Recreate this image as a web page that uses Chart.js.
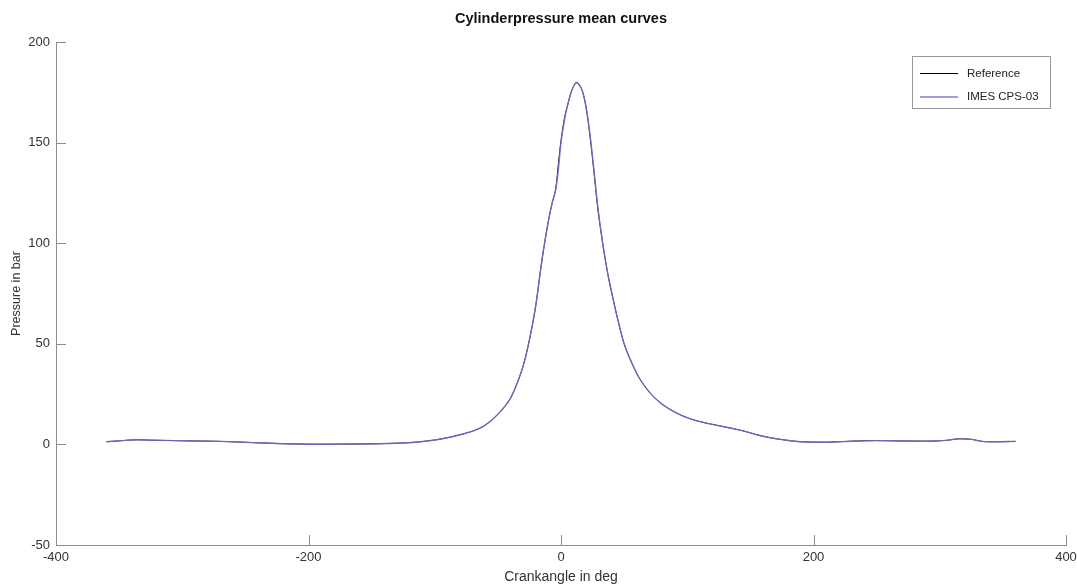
<!DOCTYPE html>
<html lang="en">
<head>
    <meta charset="UTF-8">
    <title>Cylinderpressure mean curves</title>
    <script src="https://cdn.jsdelivr.net/npm/chart.js"></script>
    <style>
        html, body { margin: 0; padding: 0; background: #fff; }
        #wrap { width: 1077px; height: 587px; }
    </style>
</head>
<body>
<div id="wrap"><canvas id="pressureChart" width="1077" height="587"></canvas></div>

<script>
    // crank angle in deg
    var crankAngle = [-360, -345, -335, -325, -300, -270, -240, -200, -160, -130, -115, -100, -90, -80, -70, -60,
        -50, -40, -35, -30, -25, -20, -15, -10, -7, -4, -2, 0, 3, 5, 8, 10, 12, 14, 17, 20, 23, 26, 29, 33, 37,
        41, 45, 50, 55, 62, 70, 78, 86, 95, 105, 115, 125, 135, 145, 155, 165, 175, 190, 210, 230, 250, 270,
        290, 305, 316, 325, 335, 345, 360];

    // pressure in bar
    var refPressure = [1.3, 2.0, 2.3, 2.1, 1.8, 1.5, 0.8, 0.1, 0.2, 0.6, 1.1, 2.2, 3.3, 4.8, 6.6, 9.6,
        15, 23, 30, 39, 52, 69, 92, 111, 120, 128, 140, 151, 163, 168, 175, 178, 179.9, 179.2, 175.5, 167, 153, 136, 118, 100, 85,
        73, 62, 50, 42, 33, 26, 21, 17.5, 14.5, 12.2, 10.6, 9.3, 8.0, 6.6, 4.8, 3.4, 2.4, 1.3, 1.1, 1.6, 1.9, 1.7,
        1.6, 2.0, 2.8, 2.5, 1.4, 1.3, 1.5];

    var imesPressure = [1.3, 2.0, 2.3, 2.1, 1.8, 1.5, 0.8, 0.1, 0.2, 0.6, 1.1, 2.2, 3.3, 4.8, 6.6, 9.6,
        15, 23, 30, 39, 52, 69, 92, 111, 120, 127, 137, 150, 162, 168, 175, 178, 179.6, 179, 175.5, 167, 154, 137, 119, 100, 85,
        73, 62, 50, 42, 33, 26, 21, 17.5, 14.5, 12.2, 10.6, 9.3, 8.0, 6.6, 4.8, 3.4, 2.4, 1.3, 1.1, 1.6, 1.9, 1.7,
        1.6, 2.0, 2.8, 2.5, 1.4, 1.3, 1.5];

    var seriesNames = ['Reference', 'IMES CPS-03'];
    var seriesColors = ['#000000', 'rgba(112, 112, 200, 0.9)'];
    var chartTitle = 'Cylinderpressure mean curves';
    var xTicks = [-400, -200, 0, 200, 400];
    var yTicks = [-50, 0, 50, 100, 150, 200];

    function toPoints(values) {
        return crankAngle.map(function (a, i) { return {x: a, y: values[i]}; });
    }

    var axisColor = '#8c8c8c';
    var textColor = '#333333';
    var fontFamily = '"Liberation Sans", Arial, Helvetica, sans-serif';

    // title centred over the plot area
    var plotTitle = {
        id: 'plotTitle',
        afterDraw: function (chart) {
            var c = chart.ctx, area = chart.chartArea;
            c.save();
            c.font = 'bold 14.5px ' + fontFamily;
            c.fillStyle = '#111';
            c.textAlign = 'center';
            c.textBaseline = 'middle';
            c.fillText(chartTitle, (area.left + area.right) / 2, 19);
            c.restore();
        }
    };

    // inward tick marks (matlab style)
    var innerTicks = {
        id: 'innerTicks',
        afterDraw: function (chart) {
            var c = chart.ctx, area = chart.chartArea;
            var xs = chart.scales.x, ys = chart.scales.y;
            c.save();
            c.strokeStyle = axisColor;
            c.lineWidth = 1;
            c.beginPath();
            xTicks.forEach(function (v) {
                var px = Math.round(xs.getPixelForValue(v)) + 0.5;
                c.moveTo(px, area.bottom);
                c.lineTo(px, area.bottom - 10);
            });
            yTicks.forEach(function (v) {
                var py = Math.round(ys.getPixelForValue(v)) + 0.5;
                c.moveTo(area.left, py);
                c.lineTo(area.left + 10, py);
            });
            c.stroke();
            c.restore();
        }
    };

    // legend box inside the plot, upper right
    var boxLegend = {
        id: 'boxLegend',
        afterDraw: function (chart) {
            var c = chart.ctx;
            var bx = 912, by = 56, bw = 138, bh = 52;
            c.save();
            c.fillStyle = '#fff';
            c.fillRect(bx, by, bw, bh);
            c.strokeStyle = '#999';
            c.lineWidth = 1;
            c.strokeRect(bx + 0.5, by + 0.5, bw, bh);
            c.font = '11.5px ' + fontFamily;
            c.textBaseline = 'middle';
            seriesNames.forEach(function (name, i) {
                var ly = by + 17.5 + i * 23.5;
                c.strokeStyle = seriesColors[i];
                c.lineWidth = i === 0 ? 1 : 1.5;
                c.beginPath();
                c.moveTo(bx + 8, ly);
                c.lineTo(bx + 46, ly);
                c.stroke();
                c.fillStyle = '#222';
                c.fillText(name, bx + 55, ly);
            });
            c.restore();
        }
    };

    var ctx = document.getElementById('pressureChart').getContext('2d');
    var pressureChart = new Chart(ctx, {
        type: 'line',
        data: {
            datasets: [
                {
                    label: seriesNames[0],
                    data: toPoints(refPressure),
                    borderColor: seriesColors[0],
                    borderWidth: 1,
                    pointRadius: 0,
                    fill: false,
                    cubicInterpolationMode: 'monotone',
                    order: 1
                },
                {
                    label: seriesNames[1],
                    data: toPoints(imesPressure),
                    borderColor: seriesColors[1],
                    borderWidth: 1.4,
                    pointRadius: 0,
                    fill: false,
                    cubicInterpolationMode: 'monotone',
                    order: 0
                }
            ]
        },
        options: {
            responsive: false,
            animation: false,
            events: [],
            layout: {padding: {left: 0, right: 11, top: 42, bottom: 0}},
            plugins: {
                legend: {display: false},
                tooltip: {enabled: false},
                title: {display: false}
            },
            scales: {
                x: {
                    type: 'linear',
                    min: -400,
                    max: 400,
                    afterBuildTicks: function (scale) {
                        scale.ticks = xTicks.map(function (v) { return {value: v}; });
                    },
                    afterFit: function (scale) {
                        scale.height = 42;
                        scale.paddingLeft = 0;
                        scale.paddingRight = 0;
                    },
                    grid: {display: true, drawOnChartArea: false, drawTicks: false, color: axisColor},
                    border: {display: true, color: axisColor},
                    ticks: {color: textColor, padding: 5, font: {family: fontFamily, size: 13}, maxRotation: 0},
                    title: {
                        display: true,
                        text: 'Crankangle in deg',
                        color: textColor,
                        font: {family: fontFamily, size: 14},
                        padding: {top: 0, bottom: 1}
                    }
                },
                y: {
                    type: 'linear',
                    min: -50,
                    max: 200,
                    afterBuildTicks: function (scale) {
                        scale.ticks = yTicks.map(function (v) { return {value: v}; });
                    },
                    afterFit: function (scale) {
                        scale.width = 56;
                        scale.paddingTop = 0;
                        scale.paddingBottom = 0;
                    },
                    grid: {display: true, drawOnChartArea: false, drawTicks: false, color: axisColor},
                    border: {display: true, color: axisColor},
                    ticks: {color: textColor, padding: 6, font: {family: fontFamily, size: 13}},
                    title: {
                        display: true,
                        text: 'Pressure in bar',
                        color: textColor,
                        font: {family: fontFamily, size: 12.5},
                        padding: {top: 9, bottom: 0}
                    }
                }
            }
        },
        plugins: [innerTicks, boxLegend, plotTitle]
    });
</script>
</body>
</html>
